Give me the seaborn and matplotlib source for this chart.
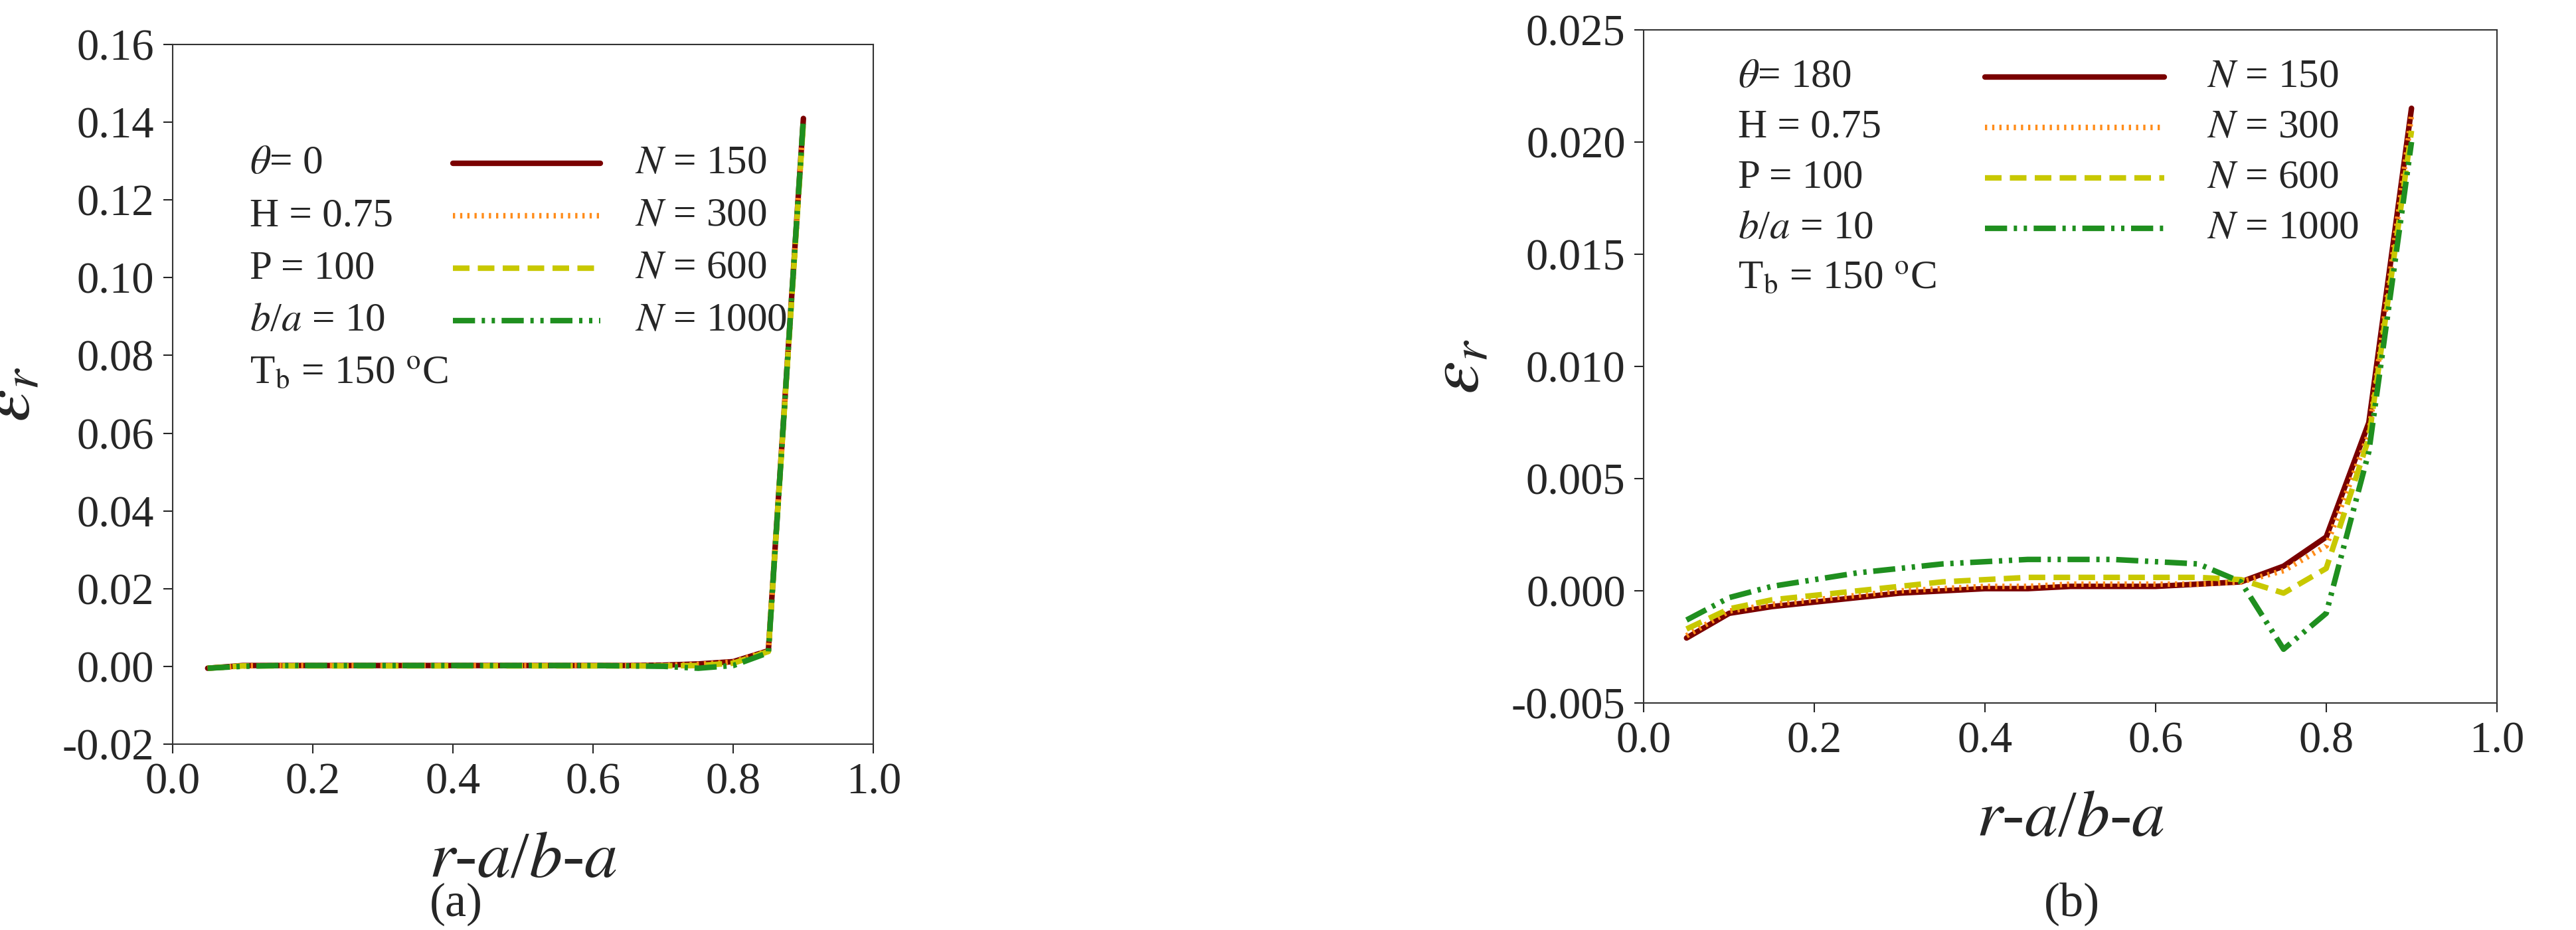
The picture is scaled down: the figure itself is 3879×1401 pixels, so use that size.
import numpy as np
import pandas as pd
import matplotlib
matplotlib.use("Agg")
import matplotlib.pyplot as plt
import seaborn as sns

sns.set_style("white")
plt.rcParams['font.family'] = ['Liberation Serif', 'DejaVu Serif']
plt.rcParams['mathtext.fontset'] = 'stix'

x = [0.05, 0.10, 0.15, 0.20, 0.25, 0.30, 0.35, 0.40, 0.45, 0.50, 0.55, 0.60, 0.65, 0.70, 0.75, 0.80, 0.85, 0.90]
labels = ["N = 150", "N = 300", "N = 600", "N = 1000"]

a_150  = [-0.0005, 0.0002, 0.0002, 0.0002, 0.0002, 0.0002, 0.0002, 0.0002, 0.0002, 0.0002, 0.0002, 0.0002, 0.0002, 0.0003, 0.0006, 0.0012, 0.004, 0.141]
a_300  = [-0.0005, 0.0001, 0.0002, 0.0002, 0.0002, 0.0002, 0.0002, 0.0002, 0.0002, 0.0002, 0.0002, 0.0002, 0.0002, 0.0002, 0.0005, 0.0011, 0.004, 0.140]
a_600  = [-0.0005, 0.0001, 0.0001, 0.0001, 0.0001, 0.0001, 0.0001, 0.0001, 0.0001, 0.0001, 0.0001, 0.0001, 0.0001, 0.0001, 0.0002, 0.0008, 0.0038, 0.140]
a_1000 = [-0.0005, 0.0000, 0.0002, 0.0002, 0.0002, 0.0002, 0.0002, 0.0002, 0.0002, 0.0002, 0.0002, 0.0002, 0.0001, 0.0000, -0.0005, 0.0002, 0.0035, 0.141]

b_150  = [-0.0021, -0.0010, -0.0007, -0.0005, -0.0003, -0.0001, 0.0000, 0.0001, 0.0001, 0.0002, 0.0002, 0.0002, 0.0003, 0.0004, 0.0011, 0.0024, 0.0075, 0.0215]
b_300  = [-0.0020, -0.0009, -0.0006, -0.0004, -0.0002, 0.0000, 0.0001, 0.0002, 0.0002, 0.0003, 0.0003, 0.0003, 0.0003, 0.0004, 0.0009, 0.0020, 0.0070, 0.0212]
b_600  = [-0.0017, -0.0008, -0.0004, -0.0002, 0.0000, 0.0002, 0.0004, 0.0005, 0.0006, 0.0006, 0.0006, 0.0006, 0.0006, 0.0005, -0.0001, 0.0010, 0.0068, 0.0205]
b_1000 = [-0.0013, -0.0003, 0.0002, 0.0005, 0.0008, 0.0010, 0.0012, 0.0013, 0.0014, 0.0014, 0.0014, 0.0013, 0.0012, 0.0004, -0.0026, -0.0010, 0.0062, 0.0200]

colors = ["#7a0000", "#ff8c1a", "#c8c800", "#1f8f1f"]
styles = ["-", (0, (0.4, 0.9)), (0, (3, 1.5)), (0, (4, 1.2, 0.6, 1.2, 0.6, 1.2))]

fig = plt.figure(figsize=(38.8, 14.01), dpi=100)
axa = fig.add_axes([0.067, 0.20, 0.272, 0.752])
axb = fig.add_axes([0.638, 0.244, 0.331, 0.724])

def draw(ax, series, ylim, yticks, fmt, params, leg_y0, leg_dy):
    for s, lab, c, ls in zip(series, labels, colors, styles):
        df = pd.DataFrame({"x": x, "y": s})
        sns.lineplot(data=df, x="x", y="y", ax=ax, color=c, lw=6, linestyle=ls)
    ax.set_xlim(0, 1.0)
    ax.set_ylim(*ylim)
    ax.set_xticks(np.arange(0, 1.01, 0.2))
    ax.set_xticklabels([f"{v:.1f}" for v in np.arange(0, 1.01, 0.2)])
    ax.set_yticks(yticks)
    ax.set_yticklabels([fmt.format(v) for v in yticks])
    ax.tick_params(labelsize=48, length=10, width=1.5, direction="out", bottom=True, left=True, pad=10)
    for sp in ax.spines.values():
        sp.set_linewidth(1.5); sp.set_color("#333333")
    ax.set_xlabel(r"$r$-$a$/$b$-$a$", fontsize=72, labelpad=30)
    ax.set_ylabel(r"$\varepsilon_r$", fontsize=80, labelpad=20)
    for i, t in enumerate(params):
        ax.text(0.11, leg_y0 - i * leg_dy, t, transform=ax.transAxes, fontsize=44, va="center")
    for i, (lab, c, ls) in enumerate(zip(labels, colors, styles)):
        yy = leg_y0 - i * leg_dy
        ax.plot([0.40, 0.61], [yy, yy], transform=ax.transAxes, color=c, lw=6, linestyle=ls)
        ax.text(0.66, yy, r"$N$ = " + lab.split("= ")[1], transform=ax.transAxes, fontsize=44, va="center")

draw(axa, [a_150, a_300, a_600, a_1000], (-0.02, 0.16), np.arange(-0.02, 0.161, 0.02), "{:.2f}",
     [r"$\theta$= 0", "H = 0.75", "P = 100", r"$b$/$a$ = 10", r"T$_\mathrm{b}$ = 150 $^\mathrm{o}$C"], 0.83, 0.075)
draw(axb, [b_150, b_300, b_600, b_1000], (-0.005, 0.025), np.arange(-0.005, 0.0251, 0.005), "{:.3f}",
     [r"$\theta$= 180", "H = 0.75", "P = 100", r"$b$/$a$ = 10", r"T$_\mathrm{b}$ = 150 $^\mathrm{o}$C"], 0.93, 0.075)
axa.set_position([0.067, 0.20, 0.272, 0.752])
axb.set_position([0.638, 0.244, 0.331, 0.724])

fig.text(0.177, 0.015, "(a)", fontsize=52, ha="center")
fig.text(0.804, 0.015, "(b)", fontsize=52, ha="center")
fig.savefig("out.png", dpi=100)
